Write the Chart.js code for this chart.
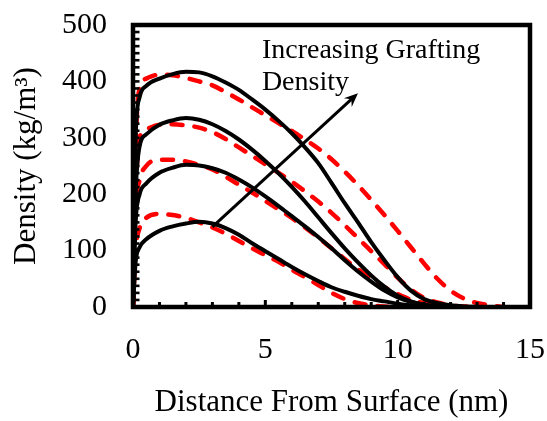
<!DOCTYPE html>
<html>
<head>
<meta charset="utf-8">
<script src="https://cdn.jsdelivr.net/npm/chart.js@4.4.1/dist/chart.umd.min.js"></script>
<style>
  html, body { margin: 0; padding: 0; background: #fff; }
</style>
</head>
<body>
<canvas id="chart" width="547" height="421"></canvas>
<script>
// distance from surface (nm), shared by every profile
const xs = [0, 0.1, 0.25, 0.5, 1, 1.5, 2, 2.5, 3, 3.5, 4, 4.5, 5, 5.5, 6, 6.5, 7, 7.5, 8, 8.5, 9, 9.5, 10, 10.5, 11, 11.5, 12, 12.5, 13, 13.5, 14, 15];

// density profiles (kg/m3), solid = black, dashed = red
const black1 = [0, 300, 372, 392, 405, 413, 417, 416, 409, 398, 385, 368, 350, 330, 308, 283, 255, 220, 184, 150, 115, 83, 53, 29, 14, 7, 3, 1, 0, null, null, null];
const black2 = [0, 200, 285, 306, 323, 331, 335, 332, 324, 312, 297, 279, 259, 237, 213, 187, 159, 131, 104, 79, 56, 36, 20, 10, 4, 1, 0, null, null, null, null, null];
const black3 = [0, 150, 200, 219, 238, 247, 252, 251, 246, 238, 226, 212, 196, 179, 161, 143, 124, 104, 83, 63, 45, 29, 17, 9, 4, 2, 0, null, null, null, null, null];
const black4 = [0, 80, 106, 120, 135, 143, 148, 151, 148, 140, 128, 113, 99, 85, 71, 58, 46, 35, 27, 20, 14, 10, 6, 3, 1, 0, null, null, null, null, null, null];

const red1 = [0, 280, 388, 405, 412, 411, 406, 400, 393, 381, 368, 354, 340, 326, 312, 297, 281, 262, 240, 216, 190, 163, 135, 106, 77, 50, 29, 15, 7, 3, 0, null];
const red2 = [0, 200, 300, 315, 323, 324, 322, 318, 310, 298, 283, 268, 253, 238, 222, 205, 187, 167, 145, 122, 99, 76, 52, 31, 16, 8, 3, 1, 0, null, null, null];
const red3 = [0, 170, 225, 250, 261, 261, 258, 252, 244, 231, 217, 203, 188, 173, 158, 141, 123, 104, 85, 67, 50, 35, 23, 13, 7, 3, 1, 0, null, null, null, null];
const red4 = [0, 100, 140, 158, 165, 163, 158, 150, 141, 130, 117, 104, 92, 80, 66, 53, 39, 25, 14, 7, 3, 1, 0, null, null, null, null, null, null, null, null, null];

const xTicks = [0, 5, 10, 15];
const yTicks = [0, 100, 200, 300, 400, 500];

// annotation: arrow tail/head and label lines, in data units
const arrowFrom = [3.0, 142];
const arrowTo = [8.5, 379];
const noteLines = ["Increasing Grafting", "Density"];
const notePos = [[4.87, 441], [4.87, 384]];

const FONT = "'Liberation Serif', 'Times New Roman', serif";

function pts(ys) {
  return xs.map(function (x, i) { return { x: x, y: ys[i] }; });
}

function solid(ys) {
  return {
    data: pts(ys),
    borderColor: "#000",
    borderWidth: 4,
    pointRadius: 0,
    fill: false,
    cubicInterpolationMode: "monotone",
    spanGaps: false,
  };
}

function dashed(ys) {
  return {
    data: pts(ys),
    borderColor: "#ff0000",
    borderWidth: 4.5,
    borderDash: [11, 12],
    borderCapStyle: "round",
    pointRadius: 0,
    fill: false,
    cubicInterpolationMode: "monotone",
    spanGaps: false,
  };
}

// box frame, inward minor ticks, arrow and its label
const extras = {
  id: "extras",
  afterDatasetsDraw(chart) {
    const ctx = chart.ctx;
    const a = chart.chartArea;
    const x = chart.scales.x;
    const y = chart.scales.y;
    ctx.save();
    ctx.fillStyle = "#000";

    for (let v = 1; v < 15; v++) {
      const px = x.getPixelForValue(v);
      const len = v % 5 === 0 ? 7 : 5;
      ctx.fillRect(px - 1.5, a.bottom - len, 3, len);
    }
    for (let v = 12.5; v < 500; v += 12.5) {
      const py = y.getPixelForValue(v);
      ctx.fillRect(a.left, py - 1.3, 6.5, 2.6);
    }

    ctx.strokeStyle = "#000";
    ctx.lineWidth = 4.5;
    ctx.strokeRect(a.left, a.top, a.right - a.left, a.bottom - a.top);

    // arrow
    const x0 = x.getPixelForValue(arrowFrom[0]);
    const y0 = y.getPixelForValue(arrowFrom[1]);
    const x1 = x.getPixelForValue(arrowTo[0]);
    const y1 = y.getPixelForValue(arrowTo[1]);
    const ang = Math.atan2(y1 - y0, x1 - x0);
    const head = 15;
    ctx.lineWidth = 3;
    ctx.beginPath();
    ctx.moveTo(x0, y0);
    ctx.lineTo(x1 - Math.cos(ang) * 8, y1 - Math.sin(ang) * 8);
    ctx.stroke();
    ctx.beginPath();
    ctx.moveTo(x1, y1);
    ctx.lineTo(x1 - head * Math.cos(ang - 0.4), y1 - head * Math.sin(ang - 0.4));
    ctx.lineTo(x1 - head * 0.6 * Math.cos(ang), y1 - head * 0.6 * Math.sin(ang));
    ctx.lineTo(x1 - head * Math.cos(ang + 0.4), y1 - head * Math.sin(ang + 0.4));
    ctx.closePath();
    ctx.fill();

    ctx.font = "28px " + FONT;
    ctx.textAlign = "left";
    ctx.textBaseline = "alphabetic";
    noteLines.forEach(function (t, i) {
      ctx.fillText(t, x.getPixelForValue(notePos[i][0]), y.getPixelForValue(notePos[i][1]));
    });
    ctx.restore();
  },
};

new Chart(document.getElementById("chart").getContext("2d"), {
  type: "line",
  data: {
    datasets: [
      solid(black1), solid(black2), solid(black3), solid(black4),
      dashed(red1), dashed(red2), dashed(red3), dashed(red4),
    ],
  },
  options: {
    responsive: false,
    animation: false,
    layout: { padding: { top: 25, right: 17, left: 0, bottom: 0 } },
    plugins: {
      legend: { display: false },
      tooltip: { enabled: false },
    },
    scales: {
      x: {
        type: "linear",
        min: 0,
        max: 15,
        afterBuildTicks(scale) {
          scale.ticks = xTicks.map(function (v) { return { value: v }; });
        },
        afterFit(scale) {
          scale.height = 114;
          scale.paddingLeft = 0;
          scale.paddingRight = 0;
        },
        ticks: {
          color: "#000",
          padding: 25,
          maxRotation: 0,
          font: { family: FONT, size: 30 },
        },
        grid: { display: false, drawTicks: false },
        border: { display: false },
        title: {
          display: true,
          text: "Distance From Surface (nm)",
          color: "#000",
          font: { family: FONT, size: 31 },
          padding: { top: 0, bottom: 0 },
        },
      },
      y: {
        min: 0,
        max: 500,
        afterBuildTicks(scale) {
          scale.ticks = yTicks.map(function (v) { return { value: v }; });
        },
        afterFit(scale) {
          scale.width = 133;
          scale.paddingTop = 0;
          scale.paddingBottom = 0;
        },
        ticks: {
          color: "#000",
          padding: 26,
          font: { family: FONT, size: 30 },
        },
        grid: { display: false, drawTicks: false },
        border: { display: false },
        title: {
          display: true,
          text: "Density (kg/m\u00b3)",
          color: "#000",
          font: { family: FONT, size: 31 },
          padding: { top: 8, bottom: 0 },
        },
      },
    },
  },
  plugins: [extras],
});
</script>
</body>
</html>
